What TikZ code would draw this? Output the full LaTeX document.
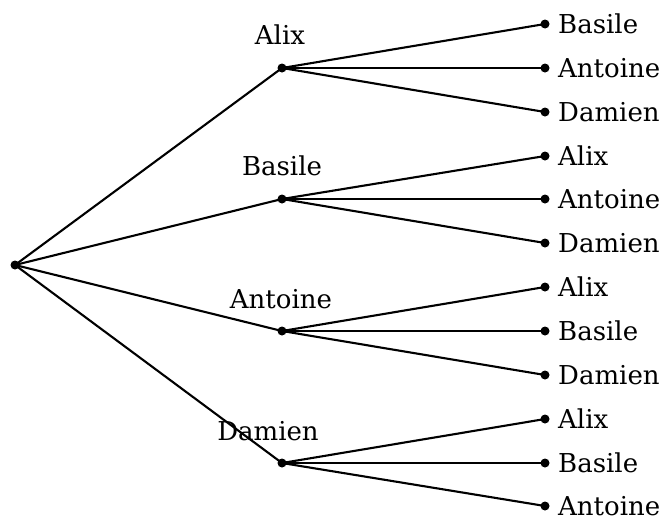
\documentclass[tikz,border=0pt]{standalone}
\usepackage{fontspec}
\setmainfont{DejaVu Serif}
\begin{document}
\begin{tikzpicture}[x=1pt,y=-1pt,
  dot/.style={circle,fill=black,inner sep=0pt,minimum size=9pt},
  edge/.style={line width=2.1pt},
  leaftext/.style={anchor=west,inner sep=0pt,font=\fontsize{26}{30}\selectfont},
  midtext/.style={inner sep=0pt,font=\fontsize{26}{30}\selectfont}]
\useasboundingbox (0,0) rectangle (666,520);
\node[dot] (r) at (15,265) {};
% level 1
\node[dot] (a) at (282,68) {};
\node[dot] (b) at (282,199) {};
\node[dot] (c) at (282,331) {};
\node[dot] (d) at (282,463) {};
\node[midtext] (ta) at (280,35) {Alix};
\node[midtext] (tb) at (282,166) {Basile};
\node[midtext] (tc) at (281,299) {Antoine};
\node[midtext] (td) at (268,431) {Damien};
\foreach \n in {a,b,c,d} \draw[edge] (r.center) -- (\n.center);
% leaves
\foreach \p/\y/\t [count=\i] in {a/24/Basile,a/68/Antoine,a/112/Damien,
  b/156/Alix,b/199/Antoine,b/243/Damien,
  c/287/Alix,c/331/Basile,c/375/Damien,
  d/419/Alix,d/463/Basile}{
  \node[dot] (l\i) at (545,\y) {};
  \node[leaftext] (lt\i) at (558,\y) {\t};
  \draw[edge] (\p.center) -- (l\i.center);
}
\node[dot] (l12) at (545,506) {};
\node[leaftext,anchor=base west] (lt12) at (558,515) {Antoine};
\draw[edge] (d.center) -- (l12.center);
\end{tikzpicture}
\end{document}
